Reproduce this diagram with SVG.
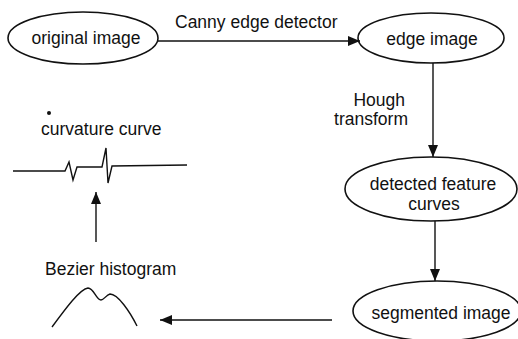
<svg xmlns="http://www.w3.org/2000/svg" width="518" height="339" viewBox="0 0 518 339">
<style>
text{font-family:"Liberation Sans",Arial,sans-serif;font-size:17.5px;fill:#111}
.n{fill:none;stroke:#111;stroke-width:1.6}
.c{fill:none;stroke:#111;stroke-width:1.4}
.m{text-anchor:middle}
</style>
<defs>
<marker id="ah" markerWidth="12" markerHeight="10" refX="12" refY="5" orient="auto" markerUnits="userSpaceOnUse">
<path d="M0,0 L12,5 L0,10 z" fill="#111"/>
</marker>
</defs>
<rect width="518" height="339" fill="#fff"/>
<g id="original">
<ellipse class="n" cx="83" cy="38" rx="75" ry="26"/>
<text class="m" x="86" y="44">original image</text>
</g>
<g id="edge">
<ellipse class="n" cx="431" cy="38" rx="73" ry="25"/>
<text class="m" x="432" y="45">edge image</text>
</g>
<g id="detected">
<ellipse class="n" cx="431" cy="189" rx="86" ry="32"/>
<text class="m" x="433" y="190">detected feature</text>
<text class="m" x="434" y="210">curves</text>
</g>
<g id="segmented">
<ellipse class="n" cx="437" cy="311" rx="84" ry="30"/>
<text class="m" x="441" y="319">segmented image</text>
</g>
<g id="histogram">
<text x="45" y="275">Bezier histogram</text>
<path class="c" d="M52,327 C66,308 80,289 88,288 C94,288 96,300 101,300 C104,300 106,295 110,294 C118,294 130,312 137,326"/>
</g>
<g id="curvature">
<text x="41" y="135">curvature curve</text>
<circle cx="49" cy="113" r="2" fill="#111"/>
<path class="c" d="M13,171 L65,171 L69,162 L73,180 L77,167 L102,167 L106,148 L108,183 L112,166 L187,165"/>
</g>
<g id="connectors">
<line class="c" x1="158" y1="41" x2="360" y2="41" marker-end="url(#ah)"/>
<text x="175" y="28">Canny edge detector</text>
<line class="c" x1="433" y1="63" x2="433" y2="157" marker-end="url(#ah)"/>
<text x="405" y="106" text-anchor="end">Hough</text>
<text x="408" y="125" text-anchor="end">transform</text>
<line class="c" x1="435" y1="221" x2="435" y2="281" marker-end="url(#ah)"/>
<line class="c" x1="332" y1="320" x2="160" y2="320" marker-end="url(#ah)"/>
<line class="c" x1="96" y1="242" x2="96" y2="192" marker-end="url(#ah)"/>
</g>
</svg>
